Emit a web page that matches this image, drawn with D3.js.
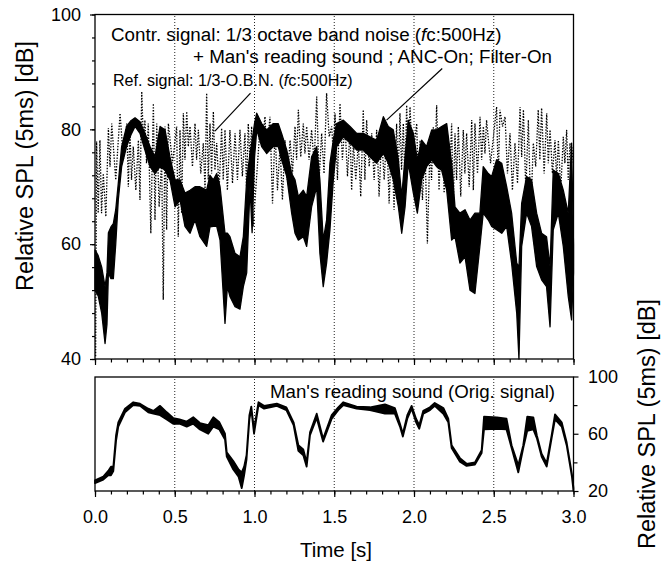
<!DOCTYPE html>
<html><head><meta charset="utf-8">
<script src="https://d3js.org/d3.v7.min.js"></script>
<style>body{margin:0;background:#fff}svg{display:block}text{font-family:"Liberation Sans",Arial,Helvetica,sans-serif;fill:#000}</style>
</head><body>
<script>
// ---------- data ----------
const ancT = [0.000,0.020,0.042,0.063,0.075,0.084,0.100,0.115,0.130,0.146,
0.167,0.198,0.225,0.251,0.282,0.313,0.345,0.376,0.408,0.439,
0.470,0.502,0.533,0.564,0.596,0.627,0.658,0.700,0.721,0.742,
0.763,0.784,0.815,0.830,0.846,0.878,0.909,0.930,0.951,0.972,
0.985,1.000,1.014,1.045,1.076,1.118,1.149,1.170,1.202,1.233,
1.254,1.275,1.306,1.327,1.358,1.390,1.410,1.431,1.452,1.473,
1.494,1.515,1.557,1.599,1.641,1.682,1.724,1.766,1.808,1.839,
1.870,1.902,1.923,1.944,1.964,1.996,2.021,2.048,2.079,2.111,
2.142,2.173,2.205,2.236,2.257,2.288,2.320,2.351,2.382,2.413,
2.434,2.466,2.487,2.518,2.550,2.581,2.612,2.644,2.658,2.675,
2.706,2.737,2.769,2.800,2.831,2.853,2.873,2.905,2.936,2.967,
2.988,3.000];
const ancLo = [52,51,48,42.7,46,55,54,54,60,67.7,
73.5,77,79,80.5,79.3,76.4,73.5,72.3,73.5,72.9,
71.2,66.5,67.7,63.1,61.9,64.2,61.3,59.6,63,63.1,
63.1,60.7,46.2,52.6,50.9,49.1,48.7,52.6,55,70,
62,75,79.9,77,75.8,77,77,74.7,71.8,65.4,
61.9,60.7,61.3,59.6,66.5,70,58.4,52.6,56.7,62.5,
71.2,77,78.7,77.6,76.4,76.4,75.2,74.1,75.8,74.1,
71.2,66.5,61.9,66.5,74.1,68.9,65.4,71.2,73.5,74.7,
73.5,72.9,69.4,60.7,61.3,56.7,57.8,52,51.4,59.6,
65.4,64.2,63.1,62.5,61.9,63.1,56.7,48,40,59.6,
65.4,63.1,56.1,53.8,52.6,45.6,62.5,65.4,59.6,50.9,
46.8,55];
const ancHi = [59,58,56,52.6,55,62,63,63.6,66,70.6,
77,80.5,81.5,82,81.3,79.3,77,75.2,80.5,79.9,
75.2,71.2,71.2,68.9,69.4,70,70,69.4,72,71.2,
72.3,70,61.9,61.9,61.3,58.4,57.8,61.3,71.2,75.8,
78,81,82.8,81,79.9,81,81,79.3,76.4,72.3,
71.2,68.3,69.4,68.3,75.2,77,71.2,60.7,64.2,74.1,
78.1,81,81.6,80.5,79.3,79.3,78.7,78.1,82.2,80.5,
79.9,74.7,68.3,75.2,81.6,79.3,74.7,78.1,77,79.9,
79.9,80.5,81,74.1,66.5,65.4,66,64.2,65.4,65.4,
73.5,72.3,71.8,74.7,74.1,70,65.4,56.7,56,67.1,
71.8,71.2,65.4,61.9,61.3,56.1,72.9,72.3,69.4,65.4,
77.6,60];

const refT = [0.004,0.010,0.020,0.031,0.041,0.052,0.068,0.084,0.094,0.105,0.130,0.157,0.178,0.199,0.209,0.219,0.229,0.240,0.256,0.272,
0.282,0.293,0.303,0.313,0.323,0.334,0.350,0.366,0.376,0.387,0.402,0.418,0.428,0.439,0.449,0.460,0.486,0.512,0.522,0.533,
0.543,0.554,0.564,0.575,0.585,0.596,0.611,0.627,0.637,0.648,0.663,0.679,0.690,0.700,0.710,0.721,0.731,0.742,0.752,0.763,
0.778,0.794,0.804,0.815,0.830,0.846,0.862,0.878,0.893,0.909,0.924,0.940,0.950,0.961,0.971,0.982,0.992,1.035,1.045,1.066,
1.076,1.097,1.113,1.129,1.144,1.160,1.175,1.191,1.206,1.223,1.238,1.254,1.264,1.275,1.290,1.306,1.316,1.327,1.342,1.358,
1.374,1.390,1.405,1.421,1.436,1.452,1.468,1.484,1.494,1.505,1.520,1.536,1.551,1.567,1.583,1.599,1.609,1.620,1.635,1.651,
1.666,1.682,1.692,1.703,1.719,1.735,1.750,1.766,1.781,1.797,1.813,1.829,1.844,1.860,1.875,1.891,1.901,1.912,1.922,1.933,
1.943,1.954,1.964,1.975,1.990,2.017,2.027,2.038,2.053,2.069,2.084,2.100,2.110,2.121,2.131,2.142,2.157,2.173,2.189,2.205,
2.220,2.236,2.246,2.257,2.267,2.278,2.293,2.309,2.319,2.330,2.346,2.362,2.372,2.382,2.398,2.414,2.424,2.435,2.445,2.455,
2.480,2.518,2.528,2.539,2.555,2.571,2.586,2.602,2.617,2.633,2.649,2.665,2.675,2.686,2.701,2.717,2.732,2.748,2.763,2.779,
2.789,2.800,2.816,2.832,2.842,2.853,2.868,2.884,2.894,2.905,2.920,2.936,2.946,2.957,2.967,2.978,2.988,2.999];
const refV = [40.5,77.9,65.4,78.1,65.4,72.3,64.8,80.2,73.5,81.0,71.2,82.8,74.7,81.0,70.0,79.9,71.2,77.0,69.4,78.1,
67.7,86.6,78.1,81.6,74.1,81.0,61.9,84.5,64.2,81.0,66.5,74.7,50.3,80.5,62.5,81.0,74.1,80.5,61.3,79.9,
65.4,82.8,74.7,83.1,77.0,80.5,73.5,81.0,74.7,79.9,72.3,77.6,69.4,86.3,71.2,81.0,72.3,83.1,72.9,77.6,
69.4,80.2,71.2,79.9,69.4,79.9,70.6,79.3,71.2,79.9,71.8,79.3,70.0,81.0,74.7,80.5,63.1,80.5,77.0,82.2,
75.8,82.2,67.1,79.9,69.4,77.0,67.7,78.1,71.2,78.1,72.3,80.5,74.7,83.4,75.2,81.0,75.8,80.5,74.7,79.9,
74.1,85.7,71.2,79.3,72.3,86.3,78.7,80.5,75.8,82.8,71.2,84.5,74.7,81.0,71.8,79.9,69.4,77.6,71.2,77.6,
68.3,83.4,71.2,81.6,73.5,79.3,71.2,79.9,68.3,78.7,71.2,79.3,67.1,78.7,66.0,81.0,71.8,82.8,72.9,81.0,
71.2,84.2,74.7,83.9,74.7,81.0,69.4,78.1,67.7,77.0,60.1,77.0,71.2,80.5,74.1,84.2,69.4,80.5,68.9,79.9,
69.4,81.0,66.5,79.3,71.2,80.5,68.3,79.9,72.3,79.3,70.0,81.6,69.4,81.0,72.3,82.2,74.7,80.5,75.8,81.6,
74.1,83.9,71.2,83.4,80.5,82.2,72.3,79.3,69.4,77.6,70.6,83.9,75.2,83.4,69.4,81.6,65.4,77.6,73.5,83.4,
74.7,83.7,72.3,82.8,74.1,79.9,72.3,78.1,71.2,78.1,69.4,78.7,74.1,79.9,71.2,77.6,74.1,77.0];

const origT = [0.000,0.052,0.083,0.100,0.115,0.132,0.146,0.188,0.240,0.282,
0.334,0.366,0.408,0.450,0.490,0.530,0.575,0.616,0.658,0.710,
0.742,0.780,0.815,0.826,0.867,0.900,0.920,0.935,0.950,0.968,
0.980,0.997,1.025,1.060,1.140,1.200,1.245,1.275,1.306,1.327,
1.348,1.390,1.430,1.484,1.525,1.557,1.640,1.724,1.818,1.880,
1.912,1.930,1.958,1.985,2.013,2.033,2.058,2.100,2.130,2.184,
2.215,2.236,2.288,2.330,2.382,2.424,2.439,2.520,2.580,2.612,
2.654,2.685,2.710,2.748,2.770,2.800,2.832,2.863,2.884,2.926,
2.957,2.990,3.000];
const origLo = [25.5,28,31,31,34,55,65,75,80,79.5,
75,74,73,70,67,67,65,67,63,60,
65,63,56,44,35,30,22,31,42,70,
77,60,80,77.5,79.5,76.5,66,48,45,37,
59,71,54.5,70.5,76.5,80,77.5,76.5,74,74,
65,58,70.5,77.5,68,63.5,74,76.5,79.5,74,
68,50,40.5,37.5,38.5,46.5,63,63.5,63,50,
33,50,62,63,57,44,37,57,70,65,
52,30,20];
const origHi = [27.5,30,34,37,37,59,68,77.5,82,81,
77.5,76,79.5,75,71,70,68.5,71.5,67.5,66,
71.5,68,60,47,41,35,33,37,45,73,
79,63,82,79.5,81,78.5,68,52,49,40,
61,74,56.5,73,78.5,82,79,78.5,80.5,78,
67,60,73,79.5,70.5,66,76,78.5,81.5,78,
70.5,52,43,39,40,48.5,72,71.5,70.5,52,
38,52,72,71.5,59,46,39.5,59,73.5,68,
54,32,22];

const xMajor = [0,0.5,1.0,1.5,2.0,2.5,3.0];
const xMinor = [0,0.1,0.2,0.3,0.4,0.5,0.6,0.7,0.8,0.9,1.0,1.1,1.2,1.3,1.4,1.5,1.6,1.7,1.8,1.9,2.0,2.1,2.2,2.3,2.4,2.5,2.6,2.7,2.8,2.9,3.0];
const gridT = [0.5,1.0,1.5,2.0,2.5];
const topMajor = [40,60,80,100];
const topMinor = [40,44,48,52,56,60,64,68,72,76,80,84,88,92,96,100];
const botMajor = [20,60,100];
const botMinor = [40,80];

// ---------- layout ----------
const svg = d3.select("body").append("svg").attr("width",670).attr("height",564);
const x = d3.scaleLinear().domain([0,3]).range([95,573.5]);
const yT = d3.scaleLinear().domain([40,100]).range([359,14.5]);
const yB = d3.scaleLinear().domain([20,100]).range([491,376.5]);
const FF = '"Liberation Sans",Arial,Helvetica,sans-serif';

// gridlines
svg.append("g").selectAll("line").data(gridT).join("line")
  .attr("x1",d=>x(d)).attr("x2",d=>x(d)).attr("y1",yT(40)).attr("y2",yT(100))
  .attr("stroke","#222").attr("stroke-width",1).attr("stroke-dasharray","1,2");
svg.append("g").selectAll("line").data(gridT).join("line")
  .attr("x1",d=>x(d)).attr("x2",d=>x(d)).attr("y1",yB(20)).attr("y2",377)
  .attr("stroke","#222").attr("stroke-width",1).attr("stroke-dasharray","1,2");

// reference (dotted) signal
const refData = refT.map((t,i)=>[t,refV[i]]);
svg.append("path").datum(refData)
  .attr("d",d3.line().x(d=>x(d[0])).y(d=>yT(d[1])))
  .attr("fill","none").attr("stroke","#000").attr("stroke-width",1.3)
  .attr("stroke-dasharray","1.4,1.5");

// ANC-on signal (solid band)
const ancData = ancT.map((t,i)=>({t,lo:ancLo[i],hi:ancHi[i]}));
svg.append("path").datum(ancData)
  .attr("d",d3.area().x(d=>x(d.t)).y0(d=>yT(d.lo)).y1(d=>yT(d.hi)))
  .attr("fill","#000").attr("stroke","#000").attr("stroke-width",1.3).attr("stroke-linejoin","round");

// original signal (bottom)
const origData = origT.map((t,i)=>({t,lo:origLo[i],hi:origHi[i]}));
svg.append("path").datum(origData)
  .attr("d",d3.area().x(d=>x(d.t)).y0(d=>yB(d.lo)).y1(d=>yB(d.hi)))
  .attr("fill","#000").attr("stroke","#000").attr("stroke-width",1.8).attr("stroke-linejoin","round");

// frames
svg.append("rect").attr("x",x(0)).attr("y",yT(100)).attr("width",x(3)-x(0)).attr("height",yT(40)-yT(100))
  .attr("fill","none").attr("stroke","#000").attr("stroke-width",1.3);
svg.append("rect").attr("x",x(0)).attr("y",377).attr("width",x(3)-x(0)).attr("height",yB(20)-377)
  .attr("fill","none").attr("stroke","#000").attr("stroke-width",1.3);

function styleAxis(g){
  g.select(".domain").remove();
  g.selectAll("line").attr("stroke","#000").attr("stroke-width",1.2);
  g.selectAll("text").attr("font-family",FF).attr("font-size","18px").attr("fill","#000");
}
// top x axis
svg.append("g").attr("transform",`translate(0,${yT(40)})`)
  .call(d3.axisBottom(x).tickValues(xMinor).tickSize(3.5).tickFormat("")).call(styleAxis);
svg.append("g").attr("transform",`translate(0,${yT(40)})`)
  .call(d3.axisBottom(x).tickValues(xMajor).tickSize(6).tickFormat("")).call(styleAxis);
// bottom x axis
svg.append("g").attr("transform",`translate(0,${yB(20)})`)
  .call(d3.axisBottom(x).tickValues(xMinor).tickSize(3.5).tickFormat("")).call(styleAxis);
svg.append("g").attr("transform",`translate(0,${yB(20)})`)
  .call(d3.axisBottom(x).tickValues(xMajor).tickSize(6).tickPadding(13.5).tickFormat(d3.format(".1f"))).call(styleAxis);
// top left y axis
svg.append("g").attr("transform",`translate(${x(0)},0)`)
  .call(d3.axisLeft(yT).tickValues(topMinor).tickSize(3).tickFormat("")).call(styleAxis);
svg.append("g").attr("transform",`translate(${x(0)},0)`)
  .call(d3.axisLeft(yT).tickValues(topMajor).tickSize(5).tickPadding(9).tickFormat(d3.format("d"))).call(styleAxis);
// bottom right y axis
svg.append("g").attr("transform",`translate(${x(3)},0)`)
  .call(d3.axisRight(yB).tickValues(botMinor).tickSize(4).tickFormat("")).call(styleAxis);
svg.append("g").attr("transform",`translate(${x(3)},0)`)
  .call(d3.axisRight(yB).tickValues(botMajor).tickSize(5).tickPadding(9.5).tickFormat(d3.format("d"))).call(styleAxis);

// axis titles
svg.append("text").attr("transform","translate(33,166) rotate(-90)").attr("text-anchor","middle")
  .attr("font-size","23.5px").text("Relative SPL (5ms) [dB]");
svg.append("text").attr("transform","translate(655,424) rotate(-90)").attr("text-anchor","middle")
  .attr("font-size","23.5px").text("Relative SPL (5ms) [dB]");
svg.append("text").attr("x",336).attr("y",556.5).attr("text-anchor","middle")
  .attr("font-size","20.5px").text("Time [s]");

// annotations
function fcText(sel, before, after){
  sel.append("tspan").text(before);
  sel.append("tspan").attr("font-style","italic").text("f");
  sel.append("tspan").text(after);
}
fcText(svg.append("text").attr("x",111).attr("y",40.5).attr("font-size","18.8px"),
  "Contr. signal: 1/3 octave band noise (", "c:500Hz)");
svg.append("text").attr("x",193).attr("y",63).attr("font-size","18.8px")
  .text("+ Man's reading sound ; ANC-On; Filter-On");
fcText(svg.append("text").attr("x",113).attr("y",86).attr("font-size","16.1px"),
  "Ref. signal: 1/3-O.B.N. (", "c:500Hz)");
svg.append("text").attr("x",270).attr("y",398).attr("font-size","18.7px")
  .text("Man's reading sound (Orig. signal)");

// leader lines (in data coordinates)
svg.append("line").attr("x1",x(0.975)).attr("y1",yT(86.3)).attr("x2",x(0.752)).attr("y2",yT(79.7))
  .attr("stroke","#000").attr("stroke-width",1.2);
svg.append("line").attr("x1",x(2.177)).attr("y1",yT(90.6)).attr("x2",x(1.828)).attr("y2",yT(81.6))
  .attr("stroke","#000").attr("stroke-width",1.2);
</script>
</body></html>
